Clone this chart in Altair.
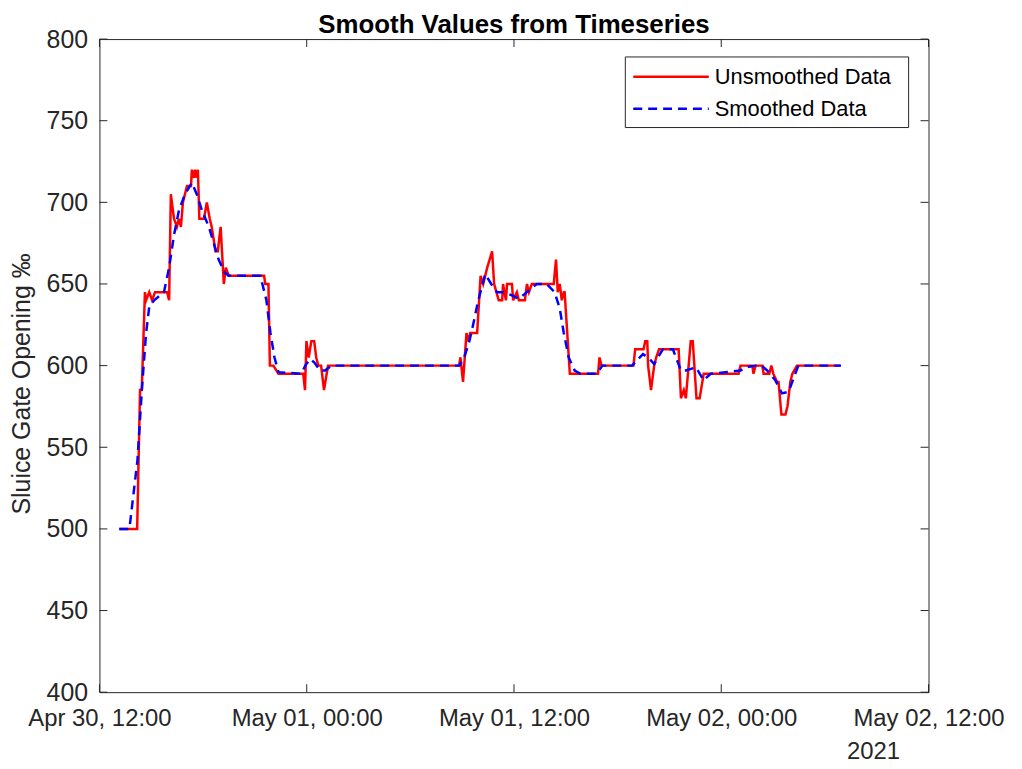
import altair as alt
import pandas as pd

# ---- data (minutes after 2021-04-30 12:00, value) ----
red_min = [69, 131, 141, 147, 158, 162, 173, 183, 193, 235, 242, 248, 259, 269, 276, 283, 290, 304, 318, 321,
           328, 332, 338, 342, 347, 363, 373, 383, 390, 403, 411, 421, 432, 439, 449, 572, 576, 587, 592, 604,
           622, 708, 714, 719, 727, 736, 746, 753, 760, 770, 780, 794, 1249, 1254, 1263, 1275, 1281, 1288, 1312, 1324,
           1333, 1340, 1347, 1364, 1371, 1387, 1399, 1402, 1412, 1416, 1433, 1437, 1450, 1457, 1478, 1485, 1492, 1502, 1578, 1586,
           1592, 1599, 1606, 1613, 1616, 1634, 1732, 1737, 1744, 1855, 1861, 1890, 1896, 1903, 1906, 1916, 1927, 1934, 1944, 2012,
           2020, 2030, 2037, 2054, 2061, 2074, 2085, 2099, 2220, 2227, 2268, 2272, 2279, 2303, 2307, 2327, 2334, 2341, 2354, 2359,
           2369, 2383, 2390, 2400, 2407, 2423, 2573]
red_val = [500, 500, 585, 585, 645, 640, 645, 640, 645, 645, 640, 705, 690, 685, 690, 685, 700, 710, 710, 720,
           715, 720, 715, 720, 690, 690, 700, 690, 685, 670, 670, 685, 650, 660, 655, 655, 650, 650, 600, 600,
           595, 595, 585, 615, 605, 615, 615, 605, 600, 600, 585, 600, 600, 605, 590, 620, 615, 620, 620, 655,
           650, 655, 660, 670, 650, 640, 640, 650, 640, 650, 650, 640, 645, 640, 640, 650, 645, 650, 650, 665,
           645, 650, 640, 645, 645, 595, 595, 605, 600, 600, 610, 610, 615, 615, 600, 585, 600, 605, 610, 610,
           580, 585, 580, 615, 615, 580, 580, 595, 595, 600, 600, 595, 600, 600, 595, 595, 600, 595, 590, 590,
           570, 570, 575, 590, 595, 600, 600]

blue_min = [69, 104, 132, 148, 162, 173, 190, 224, 242, 259, 276, 297, 321, 338, 356, 380, 397, 414, 435, 449,
            559, 580, 594, 608, 622, 701, 715, 732, 746, 767, 784, 805, 1250, 1267, 1285, 1298, 1316, 1340, 1361, 1381,
            1402, 1433, 1457, 1485, 1519, 1554, 1581, 1599, 1613, 1630, 1651, 1671, 1727, 1747, 1851, 1865, 1888, 1906, 1927, 1957,
            1992, 2020, 2037, 2072, 2099, 2123, 2227, 2245, 2279, 2300, 2320, 2348, 2371, 2394, 2417, 2428, 2576]
blue_val = [500, 500, 542, 587, 620, 636, 640, 645, 660, 680, 695, 705, 712, 705, 695, 685, 675, 665, 657, 655,
            655, 640, 620, 605, 596, 595, 600, 604, 602, 597, 597, 600, 600, 605, 615, 625, 640, 656, 650, 645,
            645, 643, 641, 645, 650, 650, 645, 635, 620, 605, 597, 595, 595, 600, 600, 603, 607, 605, 601, 610,
            610, 597, 597, 599, 591, 595, 597, 599, 600, 600, 597, 591, 583, 584, 595, 600, 600]

series_names = ["Unsmoothed Data", "Smoothed Data"]
series_colors = ["#ff0000", "#0000ff"]
y_ticks = [400, 450, 500, 550, 600, 650, 700, 750, 800]
x_ticks = ["2021-04-30T12:00:00", "2021-05-01T00:00:00", "2021-05-01T12:00:00",
           "2021-05-02T00:00:00", "2021-05-02T12:00:00"]
year_label = ["2021"]

base = pd.Timestamp("2021-04-30 12:00")


def to_times(mins):
    return [(base + pd.Timedelta(minutes=m)).strftime("%Y-%m-%dT%H:%M:%S") for m in mins]


df = pd.concat([
    pd.DataFrame({"t": to_times(red_min), "value": red_val, "series": series_names[0], "order": range(len(red_min))}),
    pd.DataFrame({"t": to_times(blue_min), "value": blue_val, "series": series_names[1], "order": range(len(blue_min))}),
])

FONT = "Liberation Sans"
AX = "#262626"
W, H = 834, 657

x_scale = alt.Scale(domain=[x_ticks[0], x_ticks[-1]])
y_scale = alt.Scale(domain=[400, 800])
x_axis = alt.Axis(values=x_ticks, format="%b %d, %H:%M", labelPadding=15, labelFontSize=24, title=None,
                  labelOverlap=False, labelFlush=False)
y_axis = alt.Axis(values=y_ticks, labelPadding=12, labelFontSize=25, titleX=-78, titleY=H / 2 + 18,
                  titleAngle=270, titleBaseline="middle", titleAlign="center", titleFontSize=25,
                  titleFontWeight="normal", title="Sluice Gate Opening ‰", labelOverlap=False)

X = alt.X("t:T", scale=x_scale, axis=x_axis, title=None)
Y = alt.Y("value:Q", scale=y_scale, axis=y_axis, title="Sluice Gate Opening ‰")

lines = alt.Chart(df).mark_line(strokeWidth=2.5).encode(
    x=X, y=Y,
    color=alt.Color("series:N", scale=alt.Scale(domain=series_names, range=series_colors), legend=None),
    strokeDash=alt.StrokeDash("series:N", scale=alt.Scale(domain=series_names, range=[[1, 0], [9, 6]]),
                              legend=None),
    order="order:Q",
)

yt = pd.DataFrame({"value": y_ticks})
xt = pd.DataFrame({"t": x_ticks})
tick_style = dict(color=AX, strokeWidth=1)
ytl = alt.Chart(yt).mark_rule(**tick_style).encode(y=Y, x=alt.value(0), x2=alt.value(8))
ytr = alt.Chart(yt).mark_rule(**tick_style).encode(y=Y, x=alt.value(W - 8), x2=alt.value(W))
xtb = alt.Chart(xt).mark_rule(**tick_style).encode(x=X, y=alt.value(H - 8), y2=alt.value(H))
xtt = alt.Chart(xt).mark_rule(**tick_style).encode(x=X, y=alt.value(0), y2=alt.value(8))

year = alt.Chart(pd.DataFrame({"t": [x_ticks[-1]], "label": year_label})).mark_text(
    align="left", baseline="middle", font=FONT, fontSize=24, color=AX, dx=-82
).encode(x=X, y=alt.value(717), text="label:N")

# ---- legend (drawn as marks, positioned in the plot's pixel space) ----
leg_df = pd.DataFrame({"label": series_names})
leg_box = alt.Chart(leg_df.head(1)).mark_rect(fill="white", stroke=AX, strokeWidth=1).encode(
    x=alt.value(529), x2=alt.value(814), y=alt.value(18), y2=alt.value(89))
leg_items = []
for i, (name, col, dash) in enumerate(zip(series_names, series_colors, [[1, 0], [9, 6]])):
    yy = 38 + 32 * i
    one = leg_df.iloc[[i]]
    leg_items.append(alt.Chart(one).mark_rule(color=col, strokeWidth=2.5, strokeDash=dash).encode(
        x=alt.value(537), x2=alt.value(613), y=alt.value(yy)))
    leg_items.append(alt.Chart(one).mark_text(align="left", baseline="middle", font=FONT, fontSize=22,
                                              color="black").encode(
        x=alt.value(619), y=alt.value(yy), text="label:N"))

chart = alt.layer(lines, ytl, ytr, xtb, xtt, year, leg_box, *leg_items).properties(
    width=W, height=H,
    title=alt.TitleParams("Smooth Values from Timeseries", fontSize=26, fontWeight="bold", font=FONT,
                          anchor="middle", offset=5, dy=16, color="black"),
    autosize=alt.AutoSizeParams(type="none"),
    padding={"left": 92, "top": 29, "right": 86, "bottom": 70},
).configure_view(stroke=AX, strokeWidth=1).configure_axis(
    domain=False, ticks=False, grid=False, labelFont=FONT, labelFontSize=24, labelColor=AX,
    titleFont=FONT, titleColor=AX,
)

chart.save("out.html", embed_options={"renderer": "svg", "actions": False})
